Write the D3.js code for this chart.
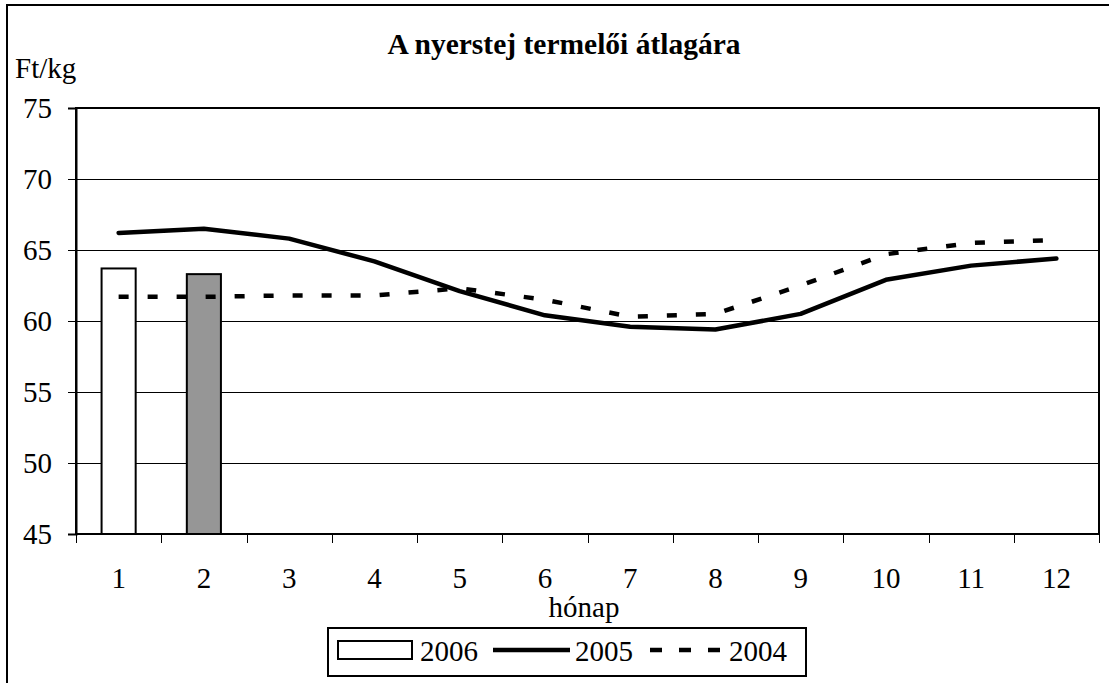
<!DOCTYPE html>
<html>
<head>
<meta charset="utf-8">
<script src="https://cdn.jsdelivr.net/npm/d3@7"></script>
<style>
  html, body { margin: 0; padding: 0; background: #fff; }
  svg { display: block; }
  text { font-family: "Liberation Serif", "Times New Roman", serif; fill: #000; }
</style>
</head>
<body>
<svg id="chart" width="1109" height="683"></svg>
<script>
// ---- data ----
const months = [1, 2, 3, 4, 5, 6, 7, 8, 9, 10, 11, 12];
const values2006 = [63.7, 63.3];
const values2005 = [66.2, 66.5, 65.8, 64.2, 62.1, 60.4, 59.6, 59.4, 60.5, 62.9, 63.9, 64.4];
const values2004 = [61.7, 61.7, 61.8, 61.8, 62.3, 61.5, 60.3, 60.5, 62.5, 64.7, 65.5, 65.7];
const yTicks = [45, 50, 55, 60, 65, 70, 75];
const barColors2006 = ["#ffffff", "#969696"];
const legendLabels = ["2006", "2005", "2004"];
const titleText = "A nyerstej termelői átlagára";
const yUnit = "Ft/kg";
const xTitle = "hónap";

const svg = d3.select("#chart");
const plot = { left: 76, right: 1099, top: 108, bottom: 534 };
const FONT = "Liberation Serif, Times New Roman, serif";

// outer frame
svg.append("rect").attr("x", 7).attr("y", 5).attr("width", 1110).attr("height", 700)
  .attr("fill", "#fff").attr("stroke", "#000").attr("stroke-width", 2);

const x = d3.scaleBand().domain(months).range([plot.left, plot.right]).paddingInner(0).paddingOuter(0);
const y = d3.scaleLinear().domain([45, 75]).range([plot.bottom, plot.top]);

// gridlines
svg.append("g").selectAll("line").data(yTicks.filter(d => d > 45 && d < 75)).join("line")
  .attr("x1", plot.left).attr("x2", plot.right)
  .attr("y1", d => y(d) + 0.5).attr("y2", d => y(d) + 0.5)
  .attr("stroke", "#000").attr("stroke-width", 1).attr("shape-rendering", "crispEdges");

// plot border
svg.append("rect").attr("x", plot.left).attr("y", plot.top)
  .attr("width", plot.right - plot.left).attr("height", plot.bottom - plot.top)
  .attr("fill", "none").attr("stroke", "#000").attr("stroke-width", 2);

// y axis
const yAxis = d3.axisLeft(y).tickValues(yTicks).tickSize(8).tickPadding(16).tickFormat(d3.format("d"));
const gy = svg.append("g").attr("transform", `translate(${plot.left},0)`).call(yAxis)
  .attr("font-family", FONT).attr("font-size", 29);
gy.select(".domain").attr("stroke", "#000").attr("stroke-width", 2);
gy.selectAll(".tick line").attr("stroke", "#000").attr("stroke-width", 1).attr("shape-rendering", "crispEdges");
gy.selectAll(".tick text").attr("fill", "#000").attr("dy", "0.34em");

// x axis: labels at band centres, ticks at band boundaries
const xAxis = d3.axisBottom(x).tickSize(0).tickPadding(0);
const gx = svg.append("g").attr("transform", `translate(0,${plot.bottom})`).call(xAxis)
  .attr("font-family", FONT).attr("font-size", 29);
gx.select(".domain").remove();
gx.selectAll(".tick text").attr("fill", "#000").attr("y", 54).attr("dy", 0);
const boundaries = months.map(m => x(m)).concat([plot.right]);
svg.append("g").selectAll("line").data(boundaries).join("line")
  .attr("x1", d => Math.round(d) + 0.5).attr("x2", d => Math.round(d) + 0.5)
  .attr("y1", plot.bottom).attr("y2", plot.bottom + 9)
  .attr("stroke", "#000").attr("stroke-width", 1).attr("shape-rendering", "crispEdges");

// bars 2006
const barW = x.bandwidth() * 0.4;
svg.append("g").selectAll("rect").data(values2006).join("rect")
  .attr("x", (d, i) => x(months[i]) + (x.bandwidth() - barW) / 2)
  .attr("y", d => y(d))
  .attr("width", barW)
  .attr("height", d => y(45) - y(d))
  .attr("fill", (d, i) => barColors2006[i])
  .attr("stroke", "#000").attr("stroke-width", 2);

const cx = m => x(m) + x.bandwidth() / 2;
const line = d3.line().x((d, i) => cx(months[i])).y(d => y(d));

svg.append("path").datum(values2004).attr("d", line)
  .attr("fill", "none").attr("stroke", "#000").attr("stroke-width", 4.5)
  .attr("stroke-dasharray", "10,19");

svg.append("path").datum(values2005).attr("d", line)
  .attr("fill", "none").attr("stroke", "#000").attr("stroke-width", 4.5)
  .attr("stroke-linejoin", "round").attr("stroke-linecap", "round");

// title
svg.append("text").attr("x", 564).attr("y", 54).attr("text-anchor", "middle")
  .attr("font-family", FONT).attr("font-size", 29.5).attr("font-weight", "bold").text(titleText);

// unit label
svg.append("text").attr("x", 15).attr("y", 78).attr("font-family", FONT).attr("font-size", 29).text(yUnit);

// x axis title
svg.append("text").attr("x", 584).attr("y", 617).attr("text-anchor", "middle")
  .attr("font-family", FONT).attr("font-size", 29).text(xTitle);

// legend
const lg = svg.append("g").attr("font-family", FONT).attr("font-size", 29);
lg.append("rect").attr("x", 328).attr("y", 628).attr("width", 478).attr("height", 48)
  .attr("fill", "#fff").attr("stroke", "#000").attr("stroke-width", 2);
lg.append("rect").attr("x", 338).attr("y", 641).attr("width", 74).attr("height", 18)
  .attr("fill", barColors2006[0]).attr("stroke", "#000").attr("stroke-width", 2);
lg.append("text").attr("x", 420).attr("y", 661).text(legendLabels[0]);
lg.append("line").attr("x1", 493).attr("x2", 570).attr("y1", 650).attr("y2", 650)
  .attr("stroke", "#000").attr("stroke-width", 4.5);
lg.append("text").attr("x", 575).attr("y", 661).text(legendLabels[1]);
lg.append("line").attr("x1", 650).attr("x2", 722).attr("y1", 650).attr("y2", 650)
  .attr("stroke", "#000").attr("stroke-width", 4.5).attr("stroke-dasharray", "12,17");
lg.append("text").attr("x", 729).attr("y", 661).text(legendLabels[2]);
</script>
</body>
</html>
